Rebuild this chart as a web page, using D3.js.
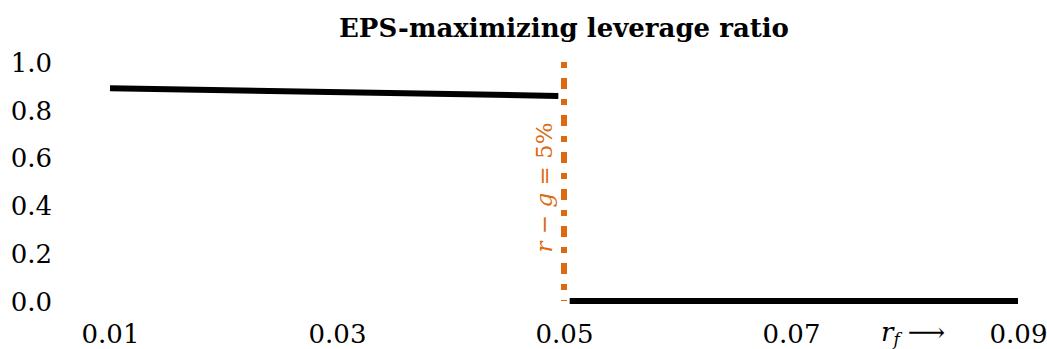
<!DOCTYPE html>
<html>
<head>
<meta charset="utf-8">
<script src="https://cdn.jsdelivr.net/npm/d3@7"></script>
<style>
  body { margin: 0; background: #fff; }
  text { font-family: "DejaVu Serif", serif; }
</style>
</head>
<body>
<svg id="chart"></svg>
<script>
// leverage ratio before the cutoff, then zero after it
const lowRates = [0.01, 0.0495];
const lowLeverage = [0.89, 0.858];
const highRates = [0.0505, 0.09];
const highLeverage = [0, 0];
const cutoffRate = 0.05;

const yTicks = [0, 0.2, 0.4, 0.6, 0.8, 1.0];
const xTicks = [0.01, 0.03, 0.05, 0.07, 0.08, 0.09];
const xTickLabels = ["0.01", "0.03", "0.05", "0.07", "rf", "0.09"];

const title = "EPS-maximizing leverage ratio";
const orange = "#DC6A10";
const serif = "\"DejaVu Serif\", serif";

let W = 1047, H = 349;
let svg = d3.select("#chart")
  .attr("width", W)
  .attr("height", H);

let x = d3.scaleLinear()
  .domain([0.01, 0.09])
  .range([110, 1018]);
let y = d3.scaleLinear()
  .domain([0, 1])
  .range([301, 62]);

const line = d3.line()
  .x(d => x(d[0]))
  .y(d => y(d[1]));

// title
svg.append("text")
  .attr("x", (x.range()[0] + x.range()[1]) / 2)
  .attr("y", 37)
  .attr("text-anchor", "middle")
  .style("font-weight", "bold")
  .style("font-size", "26px")
  .text(title);

// y axis, labels only
let yAxis = svg.append("g")
  .attr("transform", "translate(52,0)")
  .call(d3.axisLeft(y).tickValues(yTicks).tickFormat(d3.format(".1f")).tickSize(0).tickPadding(0));
yAxis.select(".domain").remove();
yAxis.selectAll("text")
  .attr("dy", "0.36em")
  .style("font-size", "26px")
  .style("font-family", serif)
  .attr("fill", "#000");

// x axis, labels only
let xAxis = svg.append("g")
  .attr("transform", "translate(0,343)")
  .call(d3.axisBottom(x).tickValues(xTicks).tickSize(0).tickPadding(0)
    .tickFormat((d, i) => xTickLabels[i]));
xAxis.select(".domain").remove();
xAxis.selectAll("text")
  .attr("dy", 0)
  .style("font-size", "26px")
  .style("font-family", serif)
  .attr("fill", "#000");

// replace the rf label with r_f and an arrow
xAxis.selectAll("text")
  .filter((d, i) => xTickLabels[i] === "rf")
  .attr("y", -2)
  .attr("x", 8)
  .text(null)
  .call(t => {
    t.append("tspan").style("font-style", "italic").text("r");
    t.append("tspan").style("font-style", "italic").style("font-size", "17px").attr("dy", 4).text("f");
    t.append("tspan").attr("dy", -4).attr("dx", 8).text("\u27F6");
  });

// cutoff line
svg.append("line")
  .attr("x1", x(cutoffRate))
  .attr("x2", x(cutoffRate))
  .attr("y1", y(1))
  .attr("y2", y(0))
  .attr("stroke", orange)
  .attr("stroke-width", 6)
  .attr("stroke-dasharray", "6,10,11,10");

svg.append("text")
  .attr("transform", `translate(${x(cutoffRate) - 12},${(y(0) + y(1)) / 2 + 6}) rotate(-90)`)
  .attr("text-anchor", "middle")
  .attr("fill", orange)
  .style("font-size", "23px")
  .call(t => {
    t.append("tspan").style("font-style", "italic").text("r");
    t.append("tspan").text(" \u2212 ");
    t.append("tspan").style("font-style", "italic").text("g");
    t.append("tspan").text(" = 5%");
  });

// leverage lines
const series = [
  d3.zip(lowRates, lowLeverage),
  d3.zip(highRates, highLeverage)
];
svg.selectAll("path.lev")
  .data(series)
  .join("path")
  .attr("class", "lev")
  .attr("d", line)
  .attr("fill", "none")
  .attr("stroke", "#000")
  .attr("stroke-width", 6);
</script>
</body>
</html>
